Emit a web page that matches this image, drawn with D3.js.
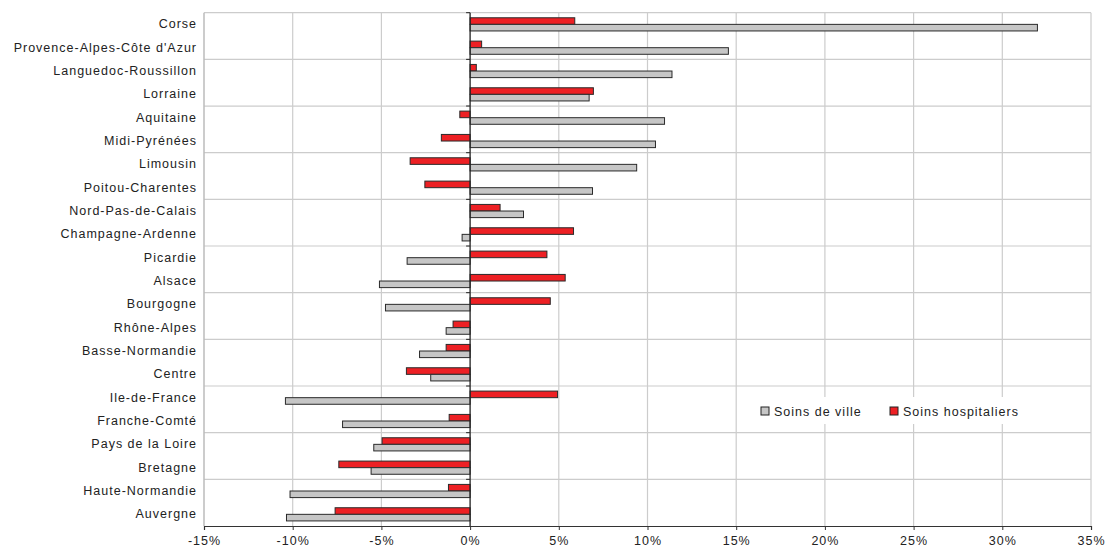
<!DOCTYPE html>
<html>
<head>
<meta charset="utf-8">
<script src="https://cdn.jsdelivr.net/npm/d3@7"></script>
<style>
body { margin: 0; background: #fff; }
svg { display: block; font-family: "Liberation Sans", Arial, sans-serif; }
</style>
</head>
<body>
<svg id="chart" width="1107" height="549"></svg>
<script>
const regions = ["Corse","Provence-Alpes-Côte d'Azur","Languedoc-Roussillon","Lorraine","Aquitaine","Midi-Pyrénées","Limousin","Poitou-Charentes","Nord-Pas-de-Calais","Champagne-Ardenne","Picardie","Alsace","Bourgogne","Rhône-Alpes","Basse-Normandie","Centre","Ile-de-France","Franche-Comté","Pays de la Loire","Bretagne","Haute-Normandie","Auvergne"];
const soinsHospitaliers = [5.9, 0.65, 0.35, 6.95, -0.58, -1.62, -3.38, -2.55, 1.69, 5.83, 4.33, 5.36, 4.52, -0.96, -1.35, -3.59, 4.93, -1.18, -4.96, -7.40, -1.22, -7.61];
const soinsDeVille = [31.98, 14.56, 11.38, 6.71, 10.96, 10.45, 9.39, 6.90, 3.01, -0.45, -3.55, -5.11, -4.77, -1.35, -2.85, -2.22, -10.41, -7.19, -5.43, -5.58, -10.15, -10.35];
const seriesNames = ["Soins hospitaliers", "Soins de ville"];
const seriesColors = ["#ED2024", "#C6C6C6"];
const xTicks = [-15, -10, -5, 0, 5, 10, 15, 20, 25, 30, 35];

(function () {
const svg = d3.select("#chart");
const pL = 204, pR = 1091, pT = 12.7, pB = 526;
const FS = 12.5, LS = 1.0;

const x = d3.scaleLinear().domain([-15, 35]).range([pL, pR]);
const y = d3.scaleBand().domain(regions).range([pT, pB]).padding(0);
const ys = d3.scaleBand().domain(seriesNames).range([0, y.bandwidth()]).paddingInner(0).paddingOuter(0.77);

// vertical gridlines
svg.append("g").selectAll("line").data(xTicks.slice(1)).join("line")
  .attr("x1", d => x(d)).attr("x2", d => x(d))
  .attr("y1", pT).attr("y2", pB)
  .attr("stroke", "#cccccc").attr("stroke-width", 1.2);

// horizontal gridlines every 2 categories
const hIdx = d3.range(0, regions.length, 2);
svg.append("g").selectAll("line").data(hIdx).join("line")
  .attr("x1", pL).attr("x2", pR)
  .attr("y1", d => y(regions[d])).attr("y2", d => y(regions[d]))
  .attr("stroke", "#cccccc").attr("stroke-width", 1.2);

// left border
svg.append("line").attr("x1", pL).attr("x2", pL).attr("y1", pT).attr("y2", pB)
  .attr("stroke", "#bbbbbb").attr("stroke-width", 1.5);

// legend background
const lg = svg.append("g");
lg.append("rect").attr("x", 752).attr("y", 397).attr("width", 300).attr("height", 27).attr("fill", "#fff");

// bars
const series = [soinsHospitaliers, soinsDeVille];
series.forEach((vals, si) => {
  svg.append("g").selectAll("rect").data(regions).join("rect")
    .attr("x", (d, i) => x(Math.min(0, vals[i])))
    .attr("width", (d, i) => Math.abs(x(vals[i]) - x(0)))
    .attr("y", d => y(d) + ys(seriesNames[si]))
    .attr("height", ys.bandwidth())
    .attr("fill", seriesColors[si])
    .attr("stroke", "#2a2a2a").attr("stroke-width", 1);
});

// zero axis with small ticks
svg.append("line").attr("x1", x(0)).attr("x2", x(0)).attr("y1", pT).attr("y2", pB)
  .attr("stroke", "#222").attr("stroke-width", 1.2);
svg.append("g").selectAll("line").data(hIdx).join("line")
  .attr("x1", x(0) - 4).attr("x2", x(0))
  .attr("y1", d => y(regions[d])).attr("y2", d => y(regions[d]))
  .attr("stroke", "#222").attr("stroke-width", 1);

// bottom axis
const xAxis = d3.axisBottom(x).tickValues(xTicks).tickSize(4).tickPadding(6).tickFormat(d => d + "%");
const gx = svg.append("g").attr("transform", `translate(0,${pB})`).call(xAxis);
gx.select(".domain").attr("stroke", "#333").attr("stroke-width", 1.2);
gx.selectAll(".tick line").attr("stroke", "#333");
gx.selectAll("text").attr("font-size", FS).attr("letter-spacing", LS).attr("fill", "#222")
  .attr("font-family", "Liberation Sans, Arial, sans-serif");

// category labels
const yAxis = d3.axisLeft(y).tickSize(0).tickPadding(7);
const gy = svg.append("g").attr("transform", `translate(${pL},0)`).call(yAxis);
gy.select(".domain").remove();
gy.selectAll("text").attr("font-size", FS).attr("letter-spacing", LS).attr("fill", "#222")
  .attr("font-family", "Liberation Sans, Arial, sans-serif");

// legend
const legendItems = [
  {name: "Soins de ville", color: seriesColors[1], x: 761},
  {name: "Soins hospitaliers", color: seriesColors[0], x: 890}
];
legendItems.forEach(it => {
  lg.append("rect").attr("x", it.x).attr("y", 407).attr("width", 8).attr("height", 8)
    .attr("fill", it.color).attr("stroke", "#222").attr("stroke-width", 1);
  lg.append("text").attr("x", it.x + 13).attr("y", 415.5).attr("font-size", FS).attr("letter-spacing", LS)
    .attr("fill", "#222").text(it.name);
});
})();
</script>
</body>
</html>
